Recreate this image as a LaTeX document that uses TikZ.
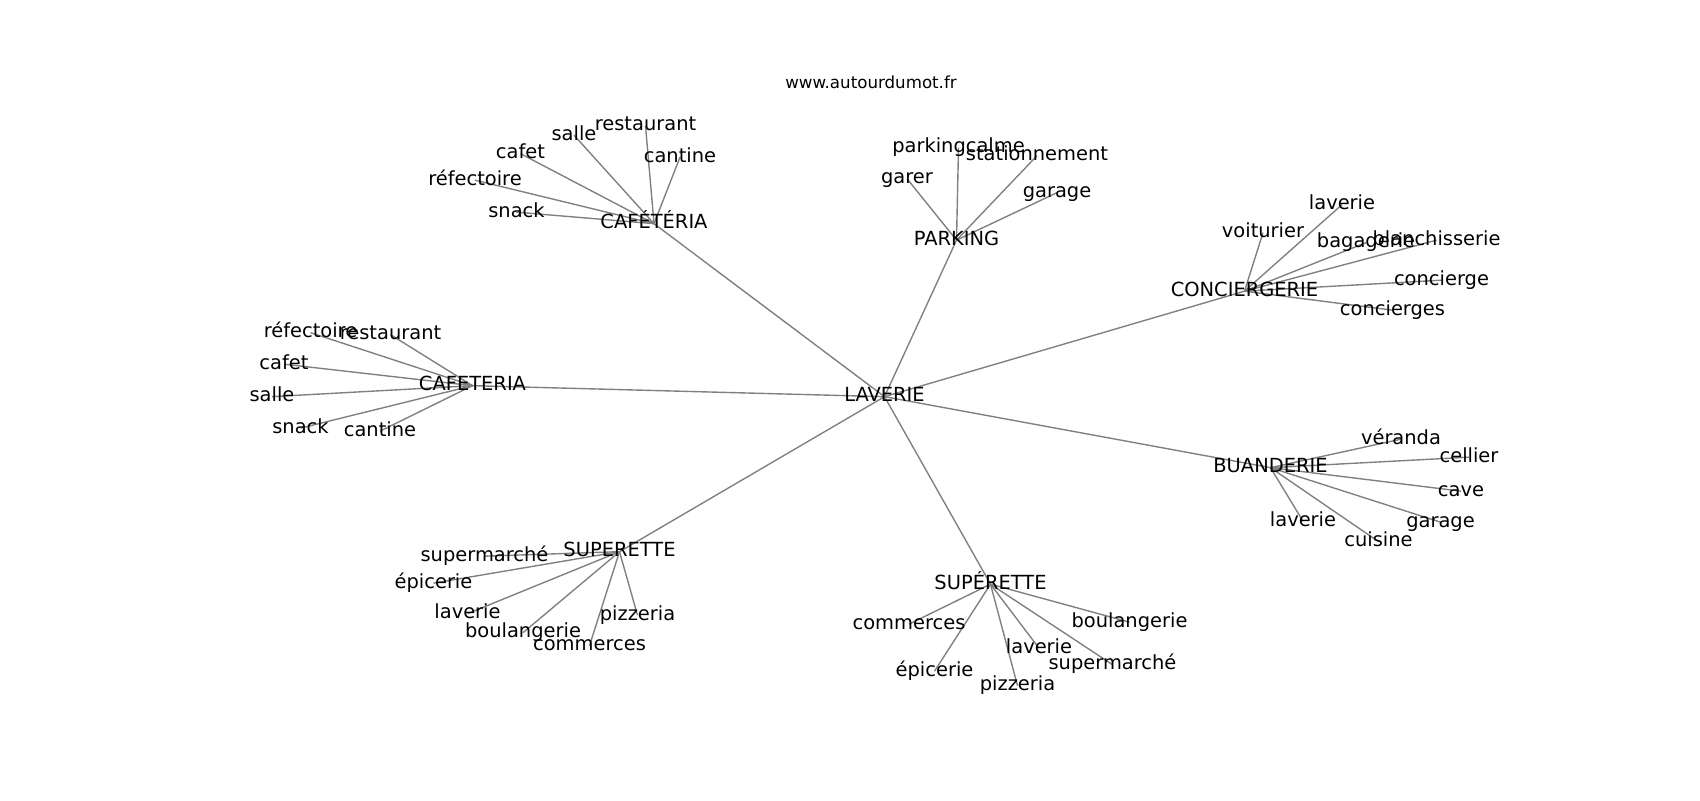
\documentclass[tikz,border=0pt]{standalone}
\usepackage{fontspec}
\setmainfont{DejaVu Sans}
\usetikzlibrary{backgrounds}
\definecolor{edgegray}{RGB}{128,128,128}
\begin{document}
\begin{tikzpicture}[x=0.72pt,y=-0.72pt,
  lbl/.style={font=\fontsize{14}{16}\selectfont, inner sep=0pt, text height=10.64pt, text depth=3.36pt, anchor=center, yshift=-1.2pt},
  ttl/.style={font=\fontsize{12}{14}\selectfont, inner sep=0pt, text height=9.12pt, text depth=2.88pt, anchor=center, yshift=-1.5pt},
  edge/.style={draw=edgegray, line width=1pt}]
\useasboundingbox (0,0) rectangle (1700,800);
\node[ttl] (title) at (871,82.5) {www.autourdumot.fr};
% hubs
\node[lbl] (lav) at (884.5,395) {LAVERIE};
\node[lbl] (cafa) at (654,222) {CAFÉTÉRIA};
\node[lbl] (park) at (956.5,238.5) {PARKING};
\node[lbl] (conc) at (1244.5,289.5) {CONCIERGERIE};
\node[lbl] (cafb) at (472.5,384) {CAFETERIA};
\node[lbl] (buan) at (1270.5,466) {BUANDERIE};
\node[lbl] (supa) at (619.5,550) {SUPERETTE};
\node[lbl] (supb) at (990.5,582.5) {SUPÉRETTE};
% CAFÉTÉRIA leaves
\node[lbl] (cafa1) at (645.5,124) {restaurant};
\node[lbl] (cafa2) at (574,133.5) {salle};
\node[lbl] (cafa3) at (520.5,152) {cafet};
\node[lbl] (cafa4) at (680,155.5) {cantine};
\node[lbl] (cafa5) at (475,178.5) {réfectoire};
\node[lbl] (cafa6) at (516.5,210.5) {snack};
% PARKING leaves
\node[lbl] (park1) at (958.5,146) {parkingcalme};
\node[lbl] (park2) at (1037,154) {stationnement};
\node[lbl] (park3) at (907,177) {garer};
\node[lbl] (park4) at (1057,191) {garage};
% CONCIERGERIE leaves
\node[lbl] (conc1) at (1342,203) {laverie};
\node[lbl] (conc2) at (1263,231) {voiturier};
\node[lbl] (conc3) at (1366,241) {bagagerie};
\node[lbl] (conc4) at (1436.5,238.5) {blanchisserie};
\node[lbl] (conc5) at (1441.5,278.5) {concierge};
\node[lbl] (conc6) at (1392.5,308.5) {concierges};
% CAFETERIA leaves
\node[lbl] (cafb1) at (310.5,331) {réfectoire};
\node[lbl] (cafb2) at (390.5,333) {restaurant};
\node[lbl] (cafb3) at (284,362.5) {cafet};
\node[lbl] (cafb4) at (272,395) {salle};
\node[lbl] (cafb5) at (300.5,426.5) {snack};
\node[lbl] (cafb6) at (380,429.5) {cantine};
% BUANDERIE leaves
\node[lbl] (buan1) at (1401,437.5) {véranda};
\node[lbl] (buan2) at (1469,455.5) {cellier};
\node[lbl] (buan3) at (1461,489.5) {cave};
\node[lbl] (buan4) at (1440.5,520.5) {garage};
\node[lbl] (buan5) at (1303,519.5) {laverie};
\node[lbl] (buan6) at (1378.5,540) {cuisine};
% SUPERETTE leaves
\node[lbl] (supa1) at (484.5,554.5) {supermarché};
\node[lbl] (supa2) at (433.5,581.5) {épicerie};
\node[lbl] (supa3) at (467.5,612) {laverie};
\node[lbl] (supa4) at (523,631) {boulangerie};
\node[lbl] (supa5) at (589.5,644) {commerces};
\node[lbl] (supa6) at (637.5,613.5) {pizzeria};
% SUPÉRETTE leaves
\node[lbl] (supb1) at (909,622.5) {commerces};
\node[lbl] (supb2) at (1129.5,620.5) {boulangerie};
\node[lbl] (supb3) at (1039,646.5) {laverie};
\node[lbl] (supb4) at (1112.5,663) {supermarché};
\node[lbl] (supb5) at (934.5,669.5) {épicerie};
\node[lbl] (supb6) at (1017.5,684) {pizzeria};
\begin{pgfonlayer}{background}
  \foreach \h in {cafa,park,conc,cafb,buan,supa,supb}
    \draw[edge] (lav.center) -- (\h.center);
  \foreach \h in {cafa,conc,cafb,buan,supa,supb}
    \foreach \i in {1,...,6}
      \draw[edge] (\h.center) -- (\h\i.center);
  \foreach \i in {1,...,4}
    \draw[edge] (park.center) -- (park\i.center);
\end{pgfonlayer}
\end{tikzpicture}
\end{document}
